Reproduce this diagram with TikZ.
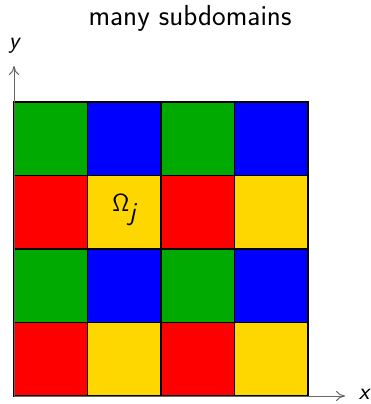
\documentclass[tikz,border=0pt]{standalone}
\usetikzlibrary{arrows.meta}
\definecolor{cgreen}{RGB}{0,170,0}
\definecolor{cblue}{RGB}{0,0,255}
\definecolor{cred}{RGB}{255,0,0}
\definecolor{cyellow}{RGB}{255,215,0}
\tikzset{
  cell/.style={draw=black, line width=1.3pt},
  axis/.style={draw=black!60, line width=1pt, -{To[length=9pt,width=10pt]}},
  lbl/.style={font=\fontsize{24}{28}\selectfont\sffamily\itshape, inner sep=0pt},
}
\begin{document}
\begin{tikzpicture}[x=1pt,y=-1pt]
\useasboundingbox (0,0) rectangle (370,404);
\node[font=\fontsize{29}{34}\selectfont\sffamily] (title) at (190,18) {many subdomains};
% cells: rows top to bottom
\def\cw{73.5}
\foreach \r/\ca/\cb in {0/cgreen/cblue, 1/cred/cyellow, 2/cgreen/cblue, 3/cred/cyellow}{
  \foreach \c in {0,1,2,3}{
    \pgfmathsetmacro{\xa}{14+\c*\cw}
    \pgfmathsetmacro{\ya}{102+\r*\cw}
    \pgfmathtruncatemacro{\odd}{mod(\c,2)}
    \ifnum\odd=0
      \filldraw[cell, fill=\ca] (\xa,\ya) rectangle ++(\cw,\cw);
    \else
      \filldraw[cell, fill=\cb] (\xa,\ya) rectangle ++(\cw,\cw);
    \fi
  }
}
\node[font=\fontsize{26}{30}\selectfont\sffamily] (omega) at (124.25,210) {$\mathsf{\Omega}_{\textsf{\itshape j}}$};
\coordinate (origin) at (14,396);
\coordinate (xend) at (345,396);
\coordinate (yend) at (14,66);
\draw[axis] (origin) -- (xend);
\draw[axis] (origin) -- (yend);
\node[lbl] (xlabel) at (364,394) {x};
\node[lbl] (ylabel) at (14,46) {y};
\end{tikzpicture}
\end{document}
